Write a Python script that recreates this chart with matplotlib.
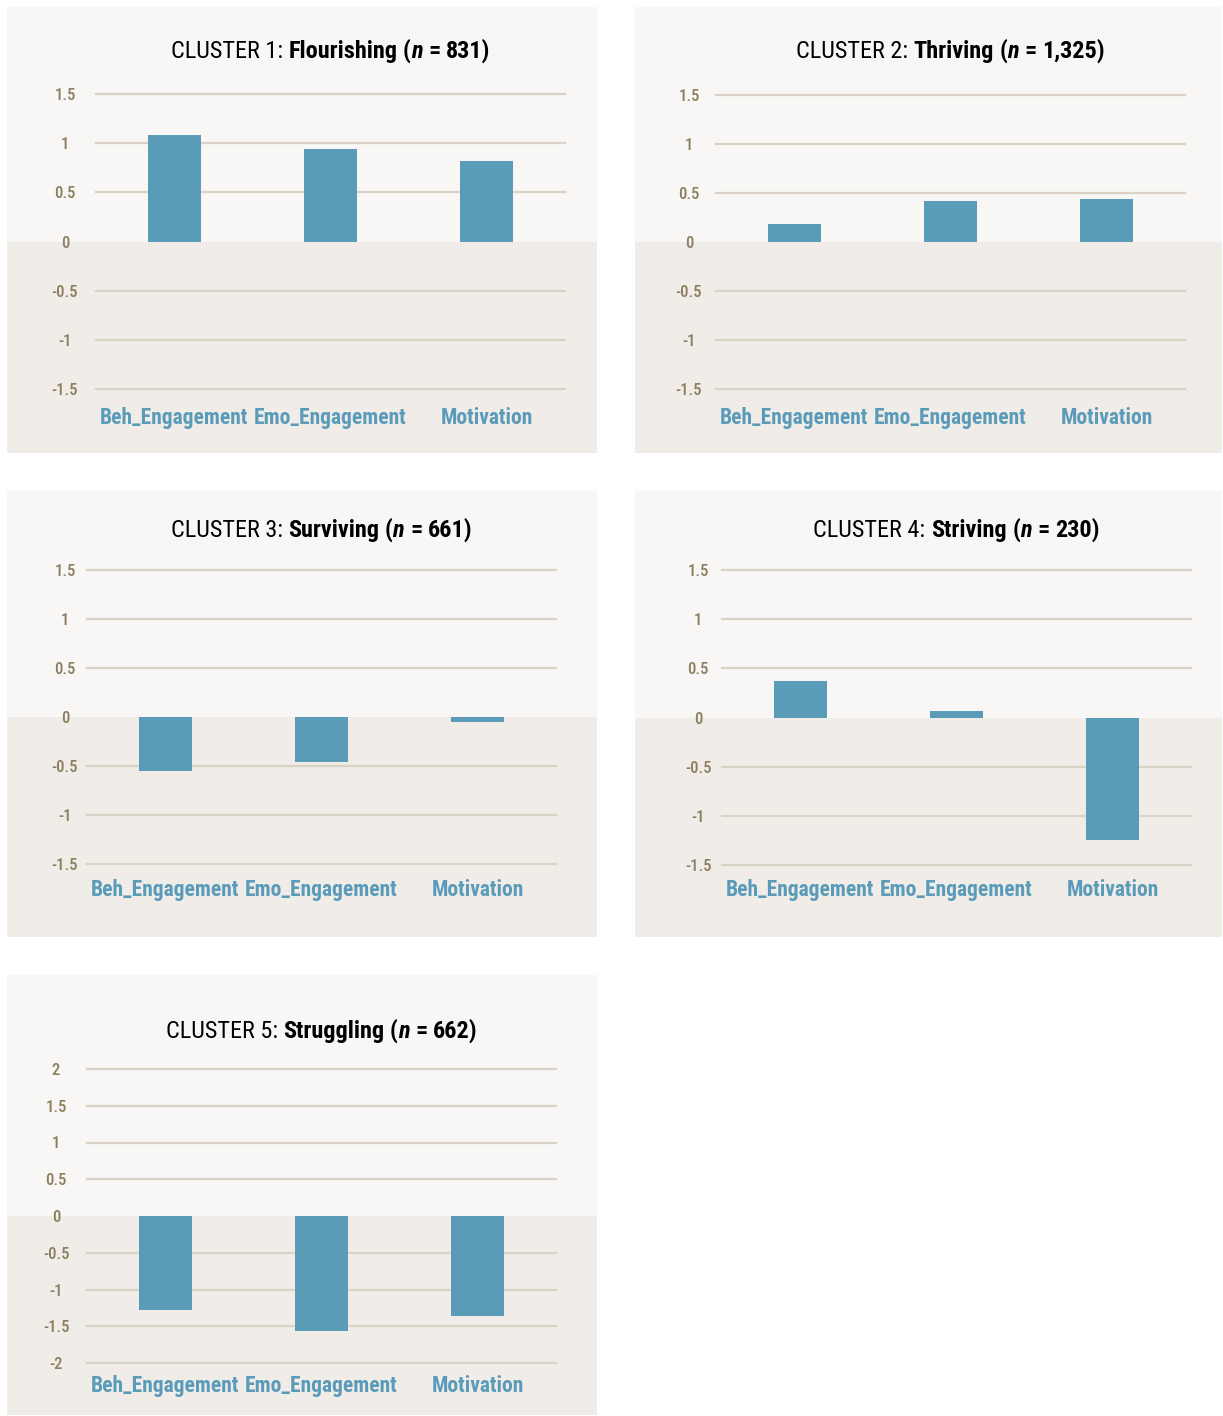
import matplotlib
matplotlib.use('Agg')
import matplotlib.pyplot as plt
from matplotlib import font_manager
from matplotlib.patches import Rectangle

# pick a narrow sans face if one is around
installed = {f.name for f in font_manager.fontManager.ttflist}
FONT = 'DejaVu Sans'
for fam in ['Liberation Sans Narrow', 'Roboto Condensed', 'Open Sans Condensed', 'Liberation Sans']:
    if fam in installed:
        FONT = fam
        break
plt.rcParams['font.family'] = [FONT, 'DejaVu Sans']

categories = ['Beh_Engagement', 'Emo_Engagement', 'Motivation']
cluster_names = ['Flourishing', 'Thriving', 'Surviving', 'Striving', 'Struggling']
cluster_n = ['831', '1,325', '661', '230', '662']

flourishing = [1.08, 0.94, 0.82]
thriving = [0.18, 0.42, 0.44]
surviving = [-0.55, -0.46, -0.05]
striving = [0.37, 0.07, -1.25]
struggling = [-1.28, -1.57, -1.36]
cluster_values = [flourishing, thriving, surviving, striving, struggling]

ticks_small = [1.5, 1, 0.5, 0, -0.5, -1, -1.5]
ticks_large = [2, 1.5, 1, 0.5, 0, -0.5, -1, -1.5, -2]
cluster_ticks = [ticks_small, ticks_small, ticks_small, ticks_small, ticks_large]

W, H = 1223, 1416
DPI = 100

BAR = '#5A9CB8'
TOP_BG = '#F8F7F5'
LOW_BG = '#F0ECE7'
GRID = '#D9D2C5'
TICK = '#8C7F5F'
CAT = '#5B9BBA'

# pixel boxes (left, top, right, bottom)
panel_box = [(7, 7, 597, 453), (635, 7, 1222, 453), (7, 491, 597, 937),
             (635, 491, 1222, 937), (7, 975, 597, 1415)]
plot_box = [(96, 94, 565, 389), (716, 95, 1185, 389), (87, 570, 556, 864),
            (722, 570, 1191, 865), (87, 1069, 556, 1363)]
tick_cx = [65, 689, 65, 698, 56]
cat_cy = [418, 418, 890, 890, 1386]
title_base = [58, 58, 537, 537, 1038]

PT = 72.0 / DPI

fig = plt.figure(figsize=(W / DPI, H / DPI), dpi=DPI)
fig.patch.set_facecolor('white')
renderer = fig.canvas.get_renderer()


def text_width(s, **kw):
    t = fig.text(0, 0, s, **kw)
    w = t.get_window_extent(renderer).width
    t.remove()
    return w


def draw_title(cx, base_y, pieces, size):
    # pieces: (text, weight, style, space_after)
    widths = []
    for s, wt, st, sp in pieces:
        w = text_width(s, fontsize=size, fontweight=wt, fontstyle=st)
        gap = 0
        if sp:
            gap = text_width('x x', fontsize=size, fontweight=wt) - text_width('xx', fontsize=size, fontweight=wt)
        widths.append((w, gap))
    total = sum(w + g for w, g in widths) - widths[-1][1]
    x = cx - total / 2
    y = 1 - base_y / H
    for (s, wt, st, sp), (w, g) in zip(pieces, widths):
        fig.text(x / W, y, s, fontsize=size, fontweight=wt, fontstyle=st,
                 ha='left', va='baseline', color='black')
        x += w + g


for i in range(5):
    pl, pt, pr, pb = panel_box[i]
    l, t, r, b = plot_box[i]
    ax = fig.add_axes([l / W, 1 - b / H, (r - l) / W, (b - t) / H])
    ax.set_facecolor('none')
    ticks = cluster_ticks[i]
    ax.set_ylim(min(ticks), max(ticks))
    ax.set_xlim(-0.5, len(categories) - 0.5)

    # two-tone panel background split at zero
    zero_px = ax.transData.transform((0, 0))[1]
    zero_frac = zero_px / H
    fig.add_artist(Rectangle((pl / W, zero_frac), (pr - pl) / W, (1 - pt / H) - zero_frac,
                             transform=fig.transFigure, facecolor=TOP_BG, edgecolor='none', zorder=-2))
    fig.add_artist(Rectangle((pl / W, 1 - pb / H), (pr - pl) / W, zero_frac - (1 - pb / H),
                             transform=fig.transFigure, facecolor=LOW_BG, edgecolor='none', zorder=-2))

    ax.bar(range(len(categories)), cluster_values[i], width=0.34, color=BAR, zorder=3)

    ax.set_yticks(ticks)
    ax.set_yticklabels([f'{v:g}' for v in ticks])
    ax.yaxis.grid(True, color=GRID, linewidth=1.6)
    for tk, gl in zip(ticks, ax.get_ygridlines()):
        gl.set_clip_on(False)
        if tk == 0:
            gl.set_visible(False)
    ax.set_axisbelow(True)
    ax.tick_params(axis='y', length=0, pad=(l - tick_cx[i]) * PT, labelsize=12, labelcolor=TICK)
    for lab in ax.get_yticklabels():
        lab.set_ha('center')
        lab.set_va('center_baseline')
        lab.set_fontweight('medium')

    ax.set_xticks(range(len(categories)))
    ax.set_xticklabels(categories)
    ax.tick_params(axis='x', length=0, pad=(cat_cy[i] - b) * PT, labelsize=15.5, labelcolor=CAT)
    for lab in ax.get_xticklabels():
        lab.set_va('center')
        lab.set_fontweight('bold')

    for sp in ax.spines.values():
        sp.set_visible(False)

    draw_title((l + r) / 2, title_base[i], [
        ('CLUSTER %d:' % (i + 1), 'normal', 'normal', True),
        (cluster_names[i], 'bold', 'normal', True),
        ('(', 'bold', 'normal', False),
        ('n', 'bold', 'italic', True),
        ('=', 'bold', 'normal', True),
        (cluster_n[i] + ')', 'bold', 'normal', False),
    ], 17.5)

fig.savefig('out.png', dpi=DPI, facecolor='white')
